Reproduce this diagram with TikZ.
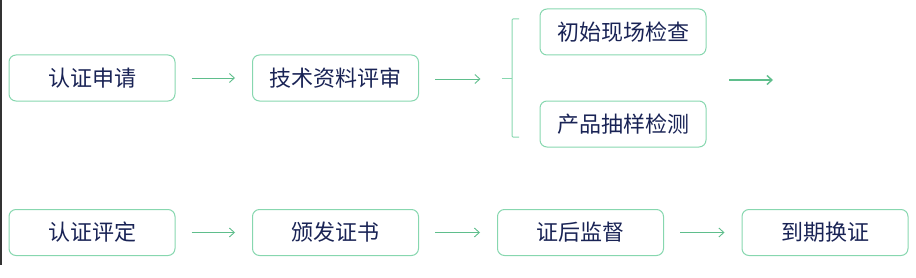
\documentclass[tikz,border=0pt]{standalone}
\usepackage{fontspec}
\usepackage{xcolor}
\usetikzlibrary{arrows.meta}
\newfontfamily\cjk{Noto Sans CJK SC}
\definecolor{boxgreen}{RGB}{135, 215, 175}
\definecolor{arrowgreen}{RGB}{95, 190, 140}
\definecolor{textnavy}{RGB}{25, 35, 85}

\begin{document}
\begin{tikzpicture}[x=1pt, y=-1pt,
    >={Straight Barb[length=5pt, width=9pt]},
    paso/.style={draw=boxgreen, line width=1pt, rounded corners=7pt,
        minimum width=166pt, minimum height=46pt, inner sep=0pt,
        text=textnavy, font=\cjk\fontsize{22}{26}\selectfont},
    flecha/.style={->, draw=arrowgreen, line width=0.9pt,
        shorten <=16pt, shorten >=17pt}]
    \useasboundingbox (0, 0) rectangle (916, 278);
    % Borde izquierdo
    \draw[black!80, line width=1.5pt] (0.75, 0) -- (0.75, 265);

    % Fila superior
    \node[paso] (solicitud) at (92, 78) {认证申请};
    \node[paso] (revision) at (335.5, 78) {技术资料评审};
    \node[paso] (inspeccion) at (623, 32) {初始现场检查};
    \node[paso] (muestreo) at (623, 124) {产品抽样检测};

    % Llave
    \coordinate (llave) at (501.5, 79);
    \draw[boxgreen, line width=1pt] (llave) -- (512, 79);
    \draw[boxgreen, line width=1pt, rounded corners=1pt]
        (519, 19) -- (512, 19) -- (512, 137) -- (519, 137);

    % Fila inferior
    \node[paso] (evaluacion) at (92, 232.5) {认证评定};
    \node[paso] (emision) at (335.5, 232.5) {颁发证书};
    \node[paso] (supervision) at (580.5, 232.5) {证后监督};
    \node[paso] (renovacion) at (825, 232.5) {到期换证};

    % Flechas
    \draw[flecha] (solicitud) -- (revision);
    \draw[flecha, shorten >=21pt] (revision.east |- llave) -- (llave);
    \coordinate (entrada) at (729, 80);
    \coordinate (salida) at (773, 80);
    \draw[->, draw=arrowgreen, line width=1.4pt] (entrada) -- (salida);
    \draw[flecha] (evaluacion) -- (emision);
    \draw[flecha] (emision) -- (supervision);
    \draw[flecha] (supervision) -- (renovacion);
\end{tikzpicture}
\end{document}
